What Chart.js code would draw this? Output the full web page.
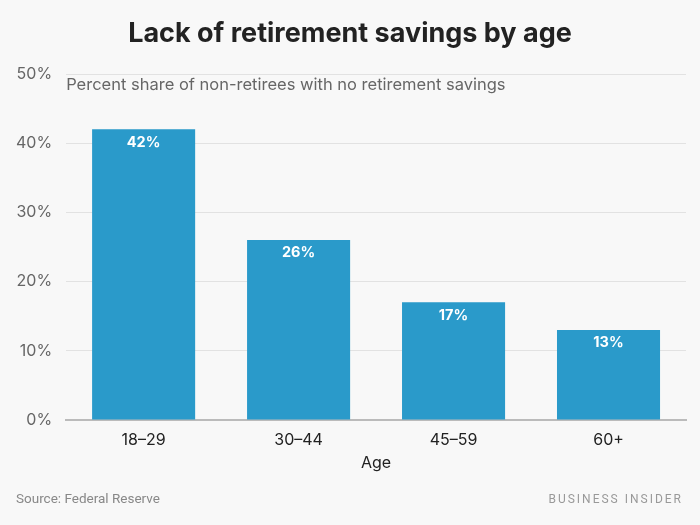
<!DOCTYPE html>
<html>
<head>
<meta charset="utf-8">
<script src="https://cdn.jsdelivr.net/npm/chart.js@4"></script>
<style>
    html, body { margin: 0; padding: 0; background: #f8f8f8; }
    #wrap { width: 700px; height: 525px; position: relative; }
</style>
</head>
<body>
<div id="wrap"><canvas id="savingsChart"></canvas></div>
<script>
// Lack of retirement savings by age
const ageGroups = ['18\u201329', '30\u201344', '45\u201359', '60+'];
const noSavingsPct = [42, 26, 17, 13];
const yTicks = [0, 10, 20, 30, 40, 50];

const barColor = '#2a9aca';
const grayText = '#666666';

// extra text: title, subtitle, bar labels, source and branding
const annotations = {
    id: 'annotations',
    afterDatasetsDraw(chart) {
        const ctx = chart.ctx;
        const area = chart.chartArea;
        ctx.save();

        ctx.fillStyle = '#222222';
        ctx.font = 'bold 27px Inter, "Noto Sans", sans-serif';
        ctx.textAlign = 'center';
        ctx.textBaseline = 'middle';
        ctx.fillText('Lack of retirement savings by age', chart.width / 2, 34);

        ctx.fillStyle = grayText;
        ctx.font = '16.5px Inter, "Noto Sans", sans-serif';
        ctx.textAlign = 'left';
        ctx.fillText('Percent share of non-retirees with no retirement savings', area.left, 85);

        const meta = chart.getDatasetMeta(0);
        ctx.fillStyle = '#ffffff';
        ctx.font = 'bold 14.5px Inter, "Noto Sans", sans-serif';
        ctx.textAlign = 'center';
        meta.data.forEach((bar, i) => {
            ctx.fillText(noSavingsPct[i] + '%', bar.x, bar.y + 13);
        });

        ctx.fillStyle = '#888888';
        ctx.font = '13.5px Roboto, "Noto Sans", sans-serif';
        ctx.textAlign = 'left';
        ctx.fillText('Source: Federal Reserve', 16, 500);

        ctx.fillStyle = '#999999';
        ctx.font = '12px Roboto, "Noto Sans", sans-serif';
        ctx.textAlign = 'right';
        ctx.letterSpacing = '2px';
        ctx.fillText('BUSINESS INSIDER', 683, 500);
        ctx.restore();
    }
};

new Chart(document.getElementById('savingsChart'), {
    type: 'bar',
    data: {
        labels: ageGroups,
        datasets: [{
            data: noSavingsPct,
            backgroundColor: barColor,
            barPercentage: 0.665,
            categoryPercentage: 1
        }]
    },
    options: {
        responsive: true,
        maintainAspectRatio: false,
        animation: false,
        layout: { padding: { left: 2, right: 14, top: 74, bottom: 54 } },
        plugins: {
            legend: { display: false },
            tooltip: { enabled: false }
        },
        scales: {
            y: {
                min: 0,
                max: 50,
                afterBuildTicks(axis) { axis.ticks = yTicks.map(v => ({ value: v })); },
                border: { display: false },
                grid: { color: '#e2e2e2', drawTicks: false },
                ticks: {
                    color: grayText,
                    padding: 14,
                    font: { family: 'Inter, "Noto Sans", sans-serif', size: 16 },
                    callback: v => v + '%'
                }
            },
            x: {
                border: { display: true, color: '#bbbbbb', width: 2 },
                grid: { display: false },
                ticks: {
                    color: '#222222',
                    padding: 4,
                    font: { family: 'Inter, "Noto Sans", sans-serif', size: 16, lineHeight: 1 }
                },
                title: {
                    display: true,
                    text: 'Age',
                    color: '#222222',
                    padding: { top: 3, bottom: 0 },
                    font: { family: 'Inter, "Noto Sans", sans-serif', size: 16, lineHeight: 1 }
                }
            }
        }
    },
    plugins: [annotations]
});
</script>
</body>
</html>
